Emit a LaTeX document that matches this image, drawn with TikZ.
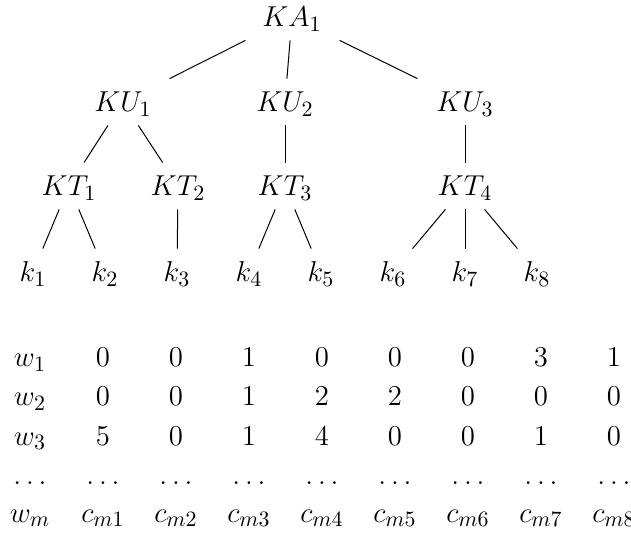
\documentclass[tikz,border=0pt]{standalone}
\begin{document}
\begin{tikzpicture}[x=0.5pt,y=-0.5pt,
  font=\fontsize{15.5}{18}\selectfont,
  tn/.style={anchor=base, inner sep=0pt, text height=16.5pt, text depth=6.5pt, minimum width=50pt},
  cell/.style={anchor=base, inner sep=0pt},
  edge/.style={line width=0.5pt}]
\useasboundingbox (0,0) rectangle (631,533);
% tree
\node[tn] (KA) at (292,27) {$KA_1$};
\node[tn] (KU1) at (123,112) {$KU_1$};
\node[tn] (KU2) at (285,112) {$KU_2$};
\node[tn] (KU3) at (465,112) {$KU_3$};
\node[tn] (KT1) at (69,196) {$KT_1$};
\node[tn] (KT2) at (178,196) {$KT_2$};
\node[tn] (KT3) at (285,196) {$KT_3$};
\node[tn] (KT4) at (465,196) {$KT_4$};
\foreach \i in {1,...,8} {
  \node[tn] (k\i) at ({33+72*(\i-1)},282) {$k_{\i}$};
}
\draw[edge] (KA) -- (KU1);
\draw[edge] (KA) -- (KU2);
\draw[edge] (KA) -- (KU3);
\draw[edge] (KU1) -- (KT1);
\draw[edge] (KU1) -- (KT2);
\draw[edge] (KU2) -- (KT3);
\draw[edge] (KU3) -- (KT4);
\draw[edge] (KT1) -- (k1);
\draw[edge] (KT1) -- (k2);
\draw[edge] (KT2) -- (k3);
\draw[edge] (KT3) -- (k4);
\draw[edge] (KT3) -- (k5);
\draw[edge] (KT4) -- (k6);
\draw[edge] (KT4) -- (k7);
\draw[edge] (KT4) -- (k8);
% matrix
\node[cell] (w1) at (30,367) {$w_1$};
\node[cell] (w2) at (30,406) {$w_2$};
\node[cell] (w3) at (30,445) {$w_3$};
\node[cell] (wd) at (30,484) {$\ldots$};
\node[cell] (wm) at (30,522) {$w_m$};
\foreach \v [count=\j] in {0,0,1,0,0,0,3,1} {
  \node[cell] (a\j) at ({103+73*(\j-1)},367) {$\v$};
}
\foreach \v [count=\j] in {0,0,1,2,2,0,0,0} {
  \node[cell] (b\j) at ({103+73*(\j-1)},406) {$\v$};
}
\foreach \v [count=\j] in {5,0,1,4,0,0,1,0} {
  \node[cell] (c\j) at ({103+73*(\j-1)},445) {$\v$};
}
\foreach \j in {1,...,8} {
  \node[cell] (d\j) at ({103+73*(\j-1)},484) {$\ldots$};
  \node[cell] (m\j) at ({103+73*(\j-1)},522) {$c_{m\j}$};
}
\end{tikzpicture}
\end{document}
